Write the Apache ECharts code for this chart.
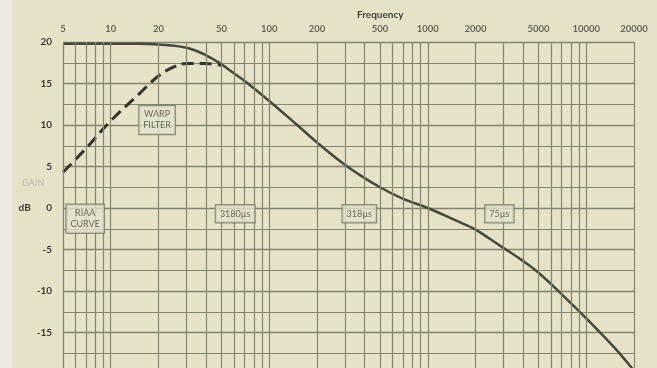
<!DOCTYPE html>
<html>
<head>
<meta charset="utf-8">
<script src="https://cdn.jsdelivr.net/npm/echarts@6/dist/echarts.min.js"></script>
<style>
html, body { margin: 0; padding: 0; }
#chart {
  width: 657px; height: 368px;
  background: linear-gradient(to right, #ecebe2 0, #ecebe2 12px, #e5e2c8 12px);
}
</style>
</head>
<body>
<div id="chart"></div>
<script>
// frequency labels printed along the top
const freqLabels = [5, 10, 20, 50, 100, 200, 500, 1000, 2000, 5000, 10000, 20000];
// vertical rulings of the log paper
const gridFreqs = [5, 6, 7, 8, 9, 10, 20, 30, 40, 50, 60, 70, 80, 90, 100, 200, 300, 400, 500,
  600, 700, 800, 900, 1000, 2000, 3000, 4000, 5000, 6000, 7000, 8000, 9000, 10000, 20000];

// playback (RIAA) curve, solid
const playFreqs = [5, 10, 15, 20, 30, 40, 50, 60, 70, 100, 150, 200, 300, 400, 500, 700, 1000,
  1500, 2000, 2500, 3000, 4000, 5000, 7000, 10000, 15000, 20000];
const playGain = [19.8, 19.8, 19.8, 19.7, 19.3, 18.4, 17.3, 16.2, 15.3, 12.9, 10.0, 7.9, 5.2,
  3.6, 2.5, 1.1, 0, -1.5, -2.6, -3.8, -4.8, -6.4, -7.8, -10.4, -13.3, -16.8, -19.6];

// with warp filter, dashed
const warpFreqs = [5, 7, 10, 15, 20, 25, 30, 40, 50];
const warpGain = [4.3, 7.2, 10.5, 13.7, 15.9, 17.0, 17.4, 17.4, 17.2];

// boxed notes: [freq, dB, text]
const notes = [
  [19.6, 10.6, 'WARP\nFILTER'],
  [6.9, -1.3, 'RIAA\nCURVE'],
  [61, -0.7, '3180µs'],
  [370, -0.7, '318µs'],
  [2830, -0.7, '75µs']
];

const chart = echarts.init(document.getElementById('chart'));
const font = 'Lato, "DejaVu Sans", sans-serif';
const rule = '#838770';

chart.setOption({
  backgroundColor: 'transparent',
  animation: false,
  title: {
    text: 'Frequency',
    left: 352, top: 5,
    textStyle: { fontSize: 10, fontWeight: 'bold', color: '#45453c', fontFamily: font }
  },
  graphic: [{
    type: 'text', left: 22, top: 179,
    style: { text: 'GAIN', fill: '#c4c3b4', fontSize: 9, fontWeight: 'bold', fontFamily: font }
  }],
  grid: { left: 63, right: 23, top: 42, bottom: -6, outerBoundsMode: 'none' },
  xAxis: {
    type: 'log', logBase: 10, min: 5, max: 20000,
    axisLine: { show: false }, axisTick: { show: false },
    axisLabel: { show: false }, splitLine: { show: false }
  },
  yAxis: {
    type: 'value', min: -20, max: 20, interval: 5,
    name: 'dB', nameLocation: 'middle', nameRotate: 0, nameGap: 32,
    nameTextStyle: { fontSize: 10, fontWeight: 'bold', color: '#3a3a33', fontFamily: font },
    axisLine: { show: false }, axisTick: { show: false },
    axisLabel: { margin: 11, fontSize: 10, fontWeight: 'bold', color: '#3a3a33', fontFamily: font },
    splitLine: { lineStyle: { color: rule, width: 1.3 } },
    minorTick: { show: false, splitNumber: 2 },
    minorSplitLine: { show: true, lineStyle: { color: rule, width: 1.1 } }
  },
  series: [
    {
      name: 'rulings', type: 'line', data: [[5, 30]], symbol: 'none', silent: true, z: 1,
      lineStyle: { opacity: 0 },
      markLine: {
        silent: true, symbol: 'none', label: { show: false },
        lineStyle: { color: rule, width: 1.2, type: 'solid' },
        data: gridFreqs.map(f => ({ xAxis: f }))
      }
    },
    {
      name: 'playback', type: 'line', z: 4, smooth: 0.4, symbol: 'none',
      data: playFreqs.map((f, i) => [f, playGain[i]]),
      lineStyle: { color: '#47483c', width: 2.5 }
    },
    {
      name: 'warp', type: 'line', z: 4, smooth: 0.4, symbol: 'none',
      data: warpFreqs.map((f, i) => [f, warpGain[i]]),
      lineStyle: { color: '#35352d', width: 3, type: [12, 6] }
    },
    {
      name: 'freq labels', type: 'scatter', z: 5, symbolSize: 1, silent: true,
      itemStyle: { color: 'transparent' }, clip: false,
      data: freqLabels.map(f => [f, 20]),
      label: {
        show: true, position: 'top', distance: 8,
        formatter: p => String(p.value[0]),
        fontSize: 9.5, fontWeight: 'bold', color: '#45453c', fontFamily: font
      }
    },
    {
      name: 'notes', type: 'scatter', z: 6, symbolSize: 1, silent: true,
      itemStyle: { color: 'transparent' },
      data: notes,
      label: {
        show: true, position: 'inside',
        formatter: p => p.value[2],
        fontSize: 9, color: '#4a4a40', fontFamily: font, lineHeight: 11,
        backgroundColor: 'rgba(229,227,206,0.95)',
        borderColor: '#777a68', borderWidth: 1.2, padding: [3, 4]
      }
    }
  ]
});
</script>
</body>
</html>
